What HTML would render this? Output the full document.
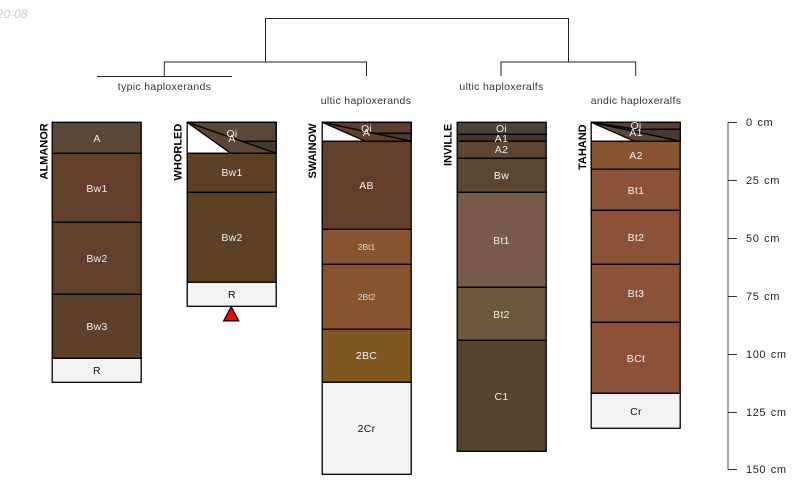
<!DOCTYPE html>
<html><head><meta charset="utf-8"><style>
html,body{margin:0;padding:0;background:#fff}
svg{display:block}
text{font-family:"Liberation Sans",sans-serif}
.h{font-size:10.5px;fill:#f0f0f0;text-anchor:middle;letter-spacing:.3px}
.d{font-size:10.5px;fill:#111;text-anchor:middle;letter-spacing:.3px}
.t{font-size:10.5px;fill:#333;text-anchor:middle;letter-spacing:.33px}
.n{font-size:11px;font-weight:bold;fill:#000;text-anchor:middle}
.s{font-size:11px;fill:#222;letter-spacing:.6px;word-spacing:1px}
rect,polygon{stroke:#000;stroke-width:1.3;transform:translate(-.3px,-.2px)}
</style></head><body>
<svg width="800" height="500" viewBox="0 0 800 500" xmlns="http://www.w3.org/2000/svg">
<text x="27.5" y="18" text-anchor="end" style="font-size:12px;font-style:italic;fill:#ccc">2020-08</text>
<g fill="none" stroke="#222" stroke-width="1">
<path d="M265.5 62V18.5H568.5V62"/>
<path d="M164.3 76V62H366.5V76"/>
<path d="M501 76V62H635.7V76"/>
<path d="M97 76.5H232"/>
</g>
<text class="t" x="164.5" y="90">typic haploxerands</text>
<text class="t" x="366" y="104">ultic haploxerands</text>
<text class="t" x="501.5" y="90">ultic haploxeralfs</text>
<text class="t" x="636" y="104">andic haploxeralfs</text>

<!-- ALMANOR -->
<text class="n" transform="translate(47.5,179.5) rotate(-90)" style="text-anchor:start" x="0" y="0">ALMANOR</text>
<rect x="52.5" y="122.5" width="89" height="31" fill="#5b4736"/>
<rect x="52.5" y="153.5" width="89" height="69" fill="#633f2a"/>
<rect x="52.5" y="222.5" width="89" height="72" fill="#60402a"/>
<rect x="52.5" y="294.5" width="89" height="64" fill="#5d402a"/>
<rect x="52.5" y="358.5" width="89" height="24" fill="#f2f2f2"/>
<text class="h" x="97" y="142">A</text>
<text class="h" x="97" y="192">Bw1</text>
<text class="h" x="97" y="262">Bw2</text>
<text class="h" x="97" y="330">Bw3</text>
<text class="d" x="97" y="374">R</text>

<!-- WHORLED -->
<text class="n" transform="translate(181.5,180.5) rotate(-90)" style="text-anchor:start" x="0" y="0">WHORLED</text>
<rect x="187.5" y="122.5" width="89" height="31" fill="#fff"/>
<polygon points="187.5,122.5 276.5,122.5 276.5,141.5 232,141.5" fill="#5b4736"/>
<polygon points="187.5,122.5 232,141.5 276.5,141.5 276.5,153.5" fill="#453b33"/>
<polygon points="187.5,122.5 276.5,153.5 231,153.5" fill="#5b4736"/>
<rect x="187.5" y="153.5" width="89" height="39" fill="#5b4026"/>
<rect x="187.5" y="192.5" width="89" height="90" fill="#5b4026"/>
<rect x="187.5" y="282.5" width="89" height="24" fill="#f2f2f2"/>
<text class="h" x="232" y="137">Oi</text>
<text class="h" x="232" y="142">A</text>
<text class="h" x="232" y="176">Bw1</text>
<text class="h" x="232" y="241">Bw2</text>
<text class="d" x="232" y="298">R</text>
<polygon points="231.5,307 224,321 239,321" fill="#f00"/>

<!-- SWAINOW -->
<text class="n" transform="translate(316,178.5) rotate(-90)" style="text-anchor:start" x="0" y="0">SWAINOW</text>
<rect x="322.5" y="122.5" width="89" height="19" fill="#fff"/>
<polygon points="322.5,122.5 411.5,122.5 411.5,133.5 367,133.5" fill="#5e3d2a"/>
<polygon points="322.5,122.5 367,133.5 411.5,133.5 411.5,141.5" fill="#453b33"/>
<polygon points="322.5,122.5 411.5,141.5 366,141.5" fill="#63402a"/>
<rect x="322.5" y="141.5" width="89" height="88" fill="#633f2a"/>
<rect x="322.5" y="229.5" width="89" height="35" fill="#87542f"/>
<rect x="322.5" y="264.5" width="89" height="65" fill="#87542f"/>
<rect x="322.5" y="329.5" width="89" height="53" fill="#7e5820"/>
<rect x="322.5" y="382.5" width="89" height="92" fill="#f2f2f2"/>
<text class="h" x="366.5" y="132">Oi</text>
<text class="h" x="366.5" y="136">A</text>
<text class="h" x="366.5" y="189">AB</text>
<text class="h" x="366.5" y="250" style="font-size:8.5px;letter-spacing:0;fill:#ddd">2Bt1</text>
<text class="h" x="366.5" y="300" style="font-size:8.5px;letter-spacing:0;fill:#ddd">2Bt2</text>
<text class="h" x="366.5" y="359">2BC</text>
<text class="d" x="366.5" y="432">2Cr</text>

<!-- INVILLE -->
<text class="n" transform="translate(451.5,166) rotate(-90)" style="text-anchor:start" x="0" y="0">INVILLE</text>
<rect x="457.5" y="122.5" width="89" height="12" fill="#4d423a"/>
<rect x="457.5" y="134.5" width="89" height="7" fill="#44362a"/>
<rect x="457.5" y="141.5" width="89" height="17" fill="#5c4631"/>
<rect x="457.5" y="158.5" width="89" height="34" fill="#5c4631"/>
<rect x="457.5" y="192.5" width="89" height="95" fill="#785a4a"/>
<rect x="457.5" y="287.5" width="89" height="53" fill="#6e573c"/>
<rect x="457.5" y="340.5" width="89" height="111" fill="#57422c"/>
<text class="h" x="501.5" y="132">Oi</text>
<text class="h" x="501.5" y="142">A1</text>
<text class="h" x="501.5" y="153">A2</text>
<text class="h" x="501.5" y="179">Bw</text>
<text class="h" x="501.5" y="244">Bt1</text>
<text class="h" x="501.5" y="318">Bt2</text>
<text class="h" x="501.5" y="400">C1</text>

<!-- TAHAND -->
<text class="n" transform="translate(586,170) rotate(-90)" style="text-anchor:start" x="0" y="0">TAHAND</text>
<rect x="591.5" y="122.5" width="89" height="19" fill="#fff"/>
<polygon points="591.5,122.5 680.5,122.5 680.5,129.5 636,129.5" fill="#5a4030"/>
<polygon points="591.5,122.5 636,129.5 680.5,129.5 680.5,141.5" fill="#453b33"/>
<polygon points="591.5,122.5 680.5,141.5 635,141.5" fill="#5b4736"/>
<rect x="591.5" y="141.5" width="89" height="28" fill="#87542f"/>
<rect x="591.5" y="169.5" width="89" height="41" fill="#8b5238"/>
<rect x="591.5" y="210.5" width="89" height="54" fill="#8b5238"/>
<rect x="591.5" y="264.5" width="89" height="58" fill="#8b5238"/>
<rect x="591.5" y="322.5" width="89" height="71" fill="#8b5238"/>
<rect x="591.5" y="393.5" width="89" height="35" fill="#f2f2f2"/>
<text class="h" x="636" y="129">Oi</text>
<text class="h" x="636" y="136">A1</text>
<text class="h" x="636" y="159">A2</text>
<text class="h" x="636" y="194">Bt1</text>
<text class="h" x="636" y="241">Bt2</text>
<text class="h" x="636" y="297">Bt3</text>
<text class="h" x="636" y="362">BCt</text>
<text class="d" x="636" y="415">Cr</text>

<!-- scale -->
<path d="M728 122V470" fill="none" stroke="#555" stroke-width="1"/>
<path d="M728 122.5H737M728 180.5H737M728 238.5H737M728 296.5H737M728 354.5H737M728 412.5H737M728 469.5H737" fill="none" stroke="#333" stroke-width="1"/>
<text class="s" x="746" y="126">0 cm</text>
<text class="s" x="746" y="184">25 cm</text>
<text class="s" x="746" y="242">50 cm</text>
<text class="s" x="746" y="300">75 cm</text>
<text class="s" x="746" y="358">100 cm</text>
<text class="s" x="746" y="416">125 cm</text>
<text class="s" x="746" y="473">150 cm</text>
</svg>
</body></html>
